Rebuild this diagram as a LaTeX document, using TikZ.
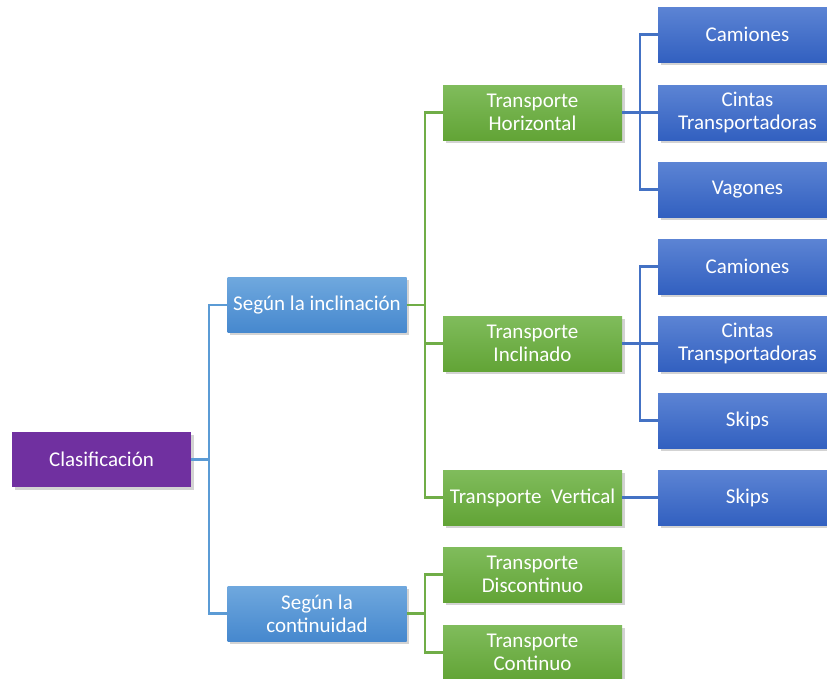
\documentclass[tikz,border=0pt]{standalone}
\usepackage{fontspec}
\setmainfont{Carlito}
\usetikzlibrary{positioning, calc, shadows}
\definecolor{lila}{RGB}{112,48,160}
\definecolor{azulA}{RGB}{111,168,222}
\definecolor{azulB}{RGB}{70,136,206}
\definecolor{verdeA}{RGB}{128,188,92}
\definecolor{verdeB}{RGB}{98,164,54}
\definecolor{marinoA}{RGB}{92,132,212}
\definecolor{marinoB}{RGB}{50,96,192}
\definecolor{lineaA}{RGB}{91,155,213}
\definecolor{lineaB}{RGB}{112,173,71}
\definecolor{lineaC}{RGB}{68,114,196}
\tikzstyle{Box} = [
minimum width=134.25pt, minimum height=41.25pt,
inner sep=1pt, align=center, text=white,
font=\fontsize{15.75}{17.25}\selectfont,
drop shadow={shadow xshift=2pt, shadow yshift=-2pt, opacity=0.35}]
\tikzstyle{Raiz} = [Box, fill=lila]
\tikzstyle{Nivel1} = [Box, top color=azulA, bottom color=azulB]
\tikzstyle{Nivel2} = [Box, top color=verdeA, bottom color=verdeB]
\tikzstyle{Nivel3} = [Box, top color=marinoA, bottom color=marinoB]
\tikzstyle{Rama} = [line width=1.6pt]

\begin{document}
\begin{tikzpicture}[x=0.75pt, y=-0.75pt]
    \useasboundingbox (0,0) rectangle (827,678);
    \clip (0,0) rectangle (827,678);

    \node [Raiz] (clas) at (101.5,459.5) {Clasificación};
    \node [Nivel1] (incl) at (317,305) {Según la inclinación};
    \node [Nivel1] (cont) at (317,613.5) {Según la\\continuidad};

    \node [Nivel2] (hor) at (532.5,112.5) {Transporte\\Horizontal};
    \node [Nivel2] (inc) at (532.5,343.5) {Transporte\\Inclinado};
    \node [Nivel2] (ver) at (532.5,497.5) {Transporte~ Vertical};
    \node [Nivel2] (dis) at (532.5,574.5) {Transporte\\Discontinuo};
    \node [Nivel2] (con) at (532.5,652.5) {Transporte\\Continuo};

    \node [Nivel3] (cam1) at (747.5,34.5) {Camiones};
    \node [Nivel3] (cin1) at (747.5,112.5) {Cintas\\Transportadoras};
    \node [Nivel3] (vag) at (747.5,189.5) {Vagones};
    \node [Nivel3] (cam2) at (747.5,266.5) {Camiones};
    \node [Nivel3] (cin2) at (747.5,343.5) {Cintas\\Transportadoras};
    \node [Nivel3] (skp1) at (747.5,420.5) {Skips};
    \node [Nivel3] (skp2) at (747.5,497.5) {Skips};

    % nivel 1
    \draw[Rama, lineaA] (clas.east) -- ++(18,0) |- (incl.west);
    \draw[Rama, lineaA] (clas.east) -- ++(18,0) |- (cont.west);

    % nivel 2
    \draw[Rama, lineaB] (incl.east) -- ++(18,0) |- (hor.west);
    \draw[Rama, lineaB] (incl.east) -- ++(18,0) |- (inc.west);
    \draw[Rama, lineaB] (incl.east) -- ++(18,0) |- (ver.west);
    \draw[Rama, lineaB] (cont.east) -- ++(18,0) |- (dis.west);
    \draw[Rama, lineaB] (cont.east) -- ++(18,0) |- (con.west);

    % nivel 3
    \draw[Rama, lineaC] (hor.east) -- ++(18,0) |- (cam1.west);
    \draw[Rama, lineaC] (hor.east) -- (cin1.west);
    \draw[Rama, lineaC] (hor.east) -- ++(18,0) |- (vag.west);
    \draw[Rama, lineaC] (inc.east) -- ++(18,0) |- (cam2.west);
    \draw[Rama, lineaC] (inc.east) -- (cin2.west);
    \draw[Rama, lineaC] (inc.east) -- ++(18,0) |- (skp1.west);
    \draw[Rama, lineaC] (ver.east) -- (skp2.west);
\end{tikzpicture}
\end{document}
